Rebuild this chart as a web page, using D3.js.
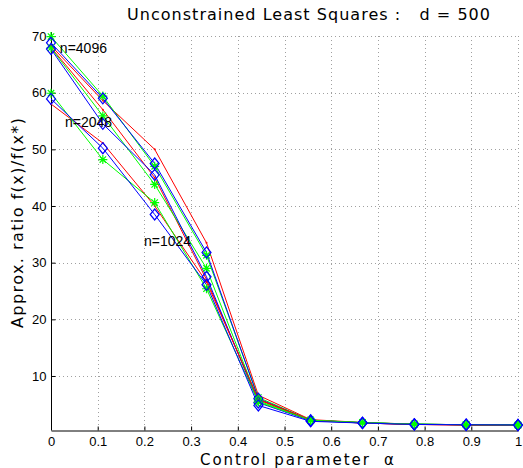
<!DOCTYPE html>
<html><head><meta charset="utf-8">
<script src="https://cdn.jsdelivr.net/npm/d3@7"></script>
<style>body{margin:0;background:#fff}</style>
</head><body>
<script>
const alpha = [0, 0.111, 0.222, 0.333, 0.444, 0.556, 0.667, 0.778, 0.889, 1];
const xTicks = [0, 0.1, 0.2, 0.3, 0.4, 0.5, 0.6, 0.7, 0.8, 0.9, 1];
const yTicks = [10, 20, 30, 40, 50, 60, 70];
const seriesNames = ["A_red","A_green","A_blue","B_red","B_green","B_blue","C_red","C_green","C_blue"];
const seriesColors = ["red","green","blue","red","green","blue","red","green","blue"];
const A_red   = [68.3, 58.6, 50.0, 33.5, 6.6, 2.3, 1.8, 1.5, 1.4, 1.3];
const A_green = [69.9, 59.4, 47.0, 31.3, 6.2, 2.2, 1.8, 1.5, 1.4, 1.35];
const A_blue  = [68.8, 59.0, 47.5, 31.8, 6.0, 2.2, 1.75, 1.5, 1.4, 1.35];
const B_red   = [68.0, 57.0, 45.0, 27.0, 5.8, 2.2, 1.7, 1.45, 1.35, 1.3];
const B_green = [67.9, 55.9, 43.8, 29.0, 5.6, 2.2, 1.75, 1.5, 1.4, 1.35];
const B_blue  = [67.7, 54.5, 45.5, 27.5, 5.3, 2.1, 1.7, 1.45, 1.4, 1.35];
const C_red   = [58.0, 51.1, 40.0, 26.6, 5.9, 2.2, 1.7, 1.45, 1.35, 1.3];
const C_green = [59.9, 48.2, 40.6, 25.4, 5.4, 2.2, 1.75, 1.5, 1.4, 1.35];
const C_blue  = [58.9, 50.2, 38.5, 26.1, 4.8, 2.0, 1.7, 1.45, 1.4, 1.35];
const labelTexts = ["n=4096", "n=2048", "n=1024"];
const labelX = [0.019, 0.03, 0.199];
const labelY = [67.0, 54.0, 32.9];

const seriesValues = [A_red, A_green, A_blue, B_red, B_green, B_blue, C_red, C_green, C_blue];
const colorMap = {red:"#ff0000", green:"#00ff00", blue:"#0000ff"};

const W = 523, H = 468;
const svg = d3.select("body").append("svg").attr("width", W).attr("height", H);
const x = d3.scaleLinear().domain([0, 1]).range([51, 518]);
const y = d3.scaleLinear().domain([0.47, 70]).range([430, 36]);

// grid
const grid = svg.append("g").attr("stroke", "#a0a0a0").attr("stroke-width", 1).attr("stroke-dasharray", "1,3");
xTicks.filter(t => t > 0).forEach(t => {
  grid.append("line").attr("x1", Math.round(x(t)) + 0.5).attr("x2", Math.round(x(t)) + 0.5)
    .attr("y1", y(70)).attr("y2", 430);
});
yTicks.forEach(t => {
  grid.append("line").attr("y1", Math.round(y(t)) + 0.5).attr("y2", Math.round(y(t)) + 0.5)
    .attr("x1", 51).attr("x2", 518);
});

// axes
const xAxis = d3.axisBottom(x).tickValues(xTicks).tickFormat(d => d === 0 ? "0" : d === 1 ? "1" : d3.format(".1f")(d)).tickSizeInner(-4).tickSizeOuter(0).tickPadding(6);
const gx = svg.append("g").attr("transform", "translate(0,430.5)").call(xAxis);
const yAxis = d3.axisLeft(y).tickValues(yTicks).tickSizeInner(-4).tickSizeOuter(0).tickPadding(5);
const gy = svg.append("g").attr("transform", "translate(51.5,0)").call(yAxis);
[gx, gy].forEach(g => {
  g.selectAll("text").attr("font-family", "Liberation Sans, Arial, sans-serif").attr("font-size", 13).attr("fill", "#000");
  g.selectAll("line").attr("stroke", "#000");
  g.select(".domain").attr("stroke", "#000");
});
gy.select(".domain").attr("d", `M0,${430}V32`);

// lines
const line = d3.line().x((d, i) => x(alpha[i])).y(d => y(d));
const plot = svg.append("g");
seriesValues.forEach((vals, si) => {
  const c = colorMap[seriesColors[si]];
  plot.append("path").attr("d", line(vals)).attr("fill", "none").attr("stroke", c).attr("stroke-width", 1);
});
// markers
seriesValues.forEach((vals, si) => {
  const kind = seriesColors[si];
  const c = colorMap[kind];
  vals.forEach((v, i) => {
    const px = x(alpha[i]), py = y(v);
    if (kind === "blue") {
      plot.append("path").attr("d", `M${px},${py-5.5}L${px+4.5},${py}L${px},${py+5.5}L${px-4.5},${py}Z`)
        .attr("fill", "none").attr("stroke", c).attr("stroke-width", 1.2);
    } else if (kind === "green") {
      const r = 4.5, r2 = 3.2;
      plot.append("path").attr("d", `M${px-r},${py}H${px+r}M${px},${py-r}V${py+r}M${px-r2},${py-r2}L${px+r2},${py+r2}M${px-r2},${py+r2}L${px+r2},${py-r2}`)
        .attr("stroke", c).attr("stroke-width", 1.2);
    } else {
      plot.append("circle").attr("cx", px).attr("cy", py).attr("r", 1).attr("fill", c);
    }
  });
});

// labels
labelTexts.forEach((t, i) => {
  svg.append("text").attr("x", x(labelX[i])).attr("y", y(labelY[i])).text(t)
    .attr("font-family", "Liberation Sans, Arial, sans-serif").attr("font-size", 14).attr("fill", "#000");
});

// title and axis labels
svg.append("text").attr("x", 127).attr("y", 20).text("Unconstrained Least Squares :   d = 500")
  .attr("font-family", "DejaVu Sans, sans-serif").attr("font-size", 16).attr("fill", "#000")
  .attr("textLength", 363).attr("lengthAdjust", "spacing").style("white-space", "pre");
svg.append("text").attr("x", 200).attr("y", 465).text("Control parameter  α")
  .attr("font-family", "DejaVu Sans, sans-serif").attr("font-size", 15).attr("fill", "#000")
  .attr("textLength", 194).attr("lengthAdjust", "spacing").style("white-space", "pre");
svg.append("text").attr("transform", "translate(23,328) rotate(-90)").text("Approx. ratio f(x)/f(x*)")
  .attr("font-family", "DejaVu Sans, sans-serif").attr("font-size", 16).attr("fill", "#000")
  .attr("textLength", 210).attr("lengthAdjust", "spacing");
</script>
</body></html>
